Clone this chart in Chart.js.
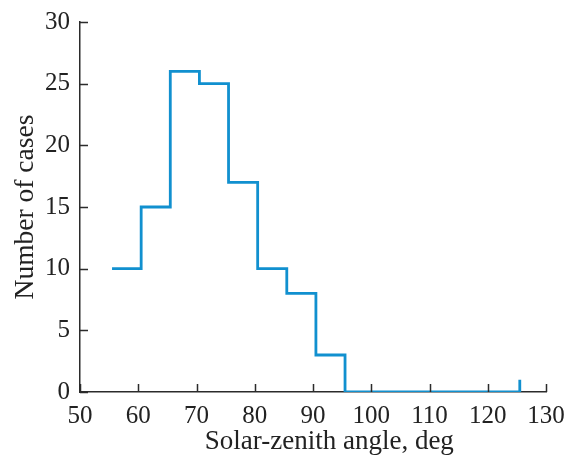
<!DOCTYPE html>
<html>
<head>
<meta charset="utf-8">
<script src="https://cdn.jsdelivr.net/npm/chart.js@4/dist/chart.umd.min.js"></script>
<style>
  html, body { margin: 0; padding: 0; background: #fff; }
  #wrap { width: 571px; height: 458px; }
</style>
</head>
<body>
<div id="wrap"><canvas id="c" width="571" height="458"></canvas></div>
<script>
// Left edges of the 5-degree bins (last entry closes the histogram)
const binEdges = [55.5, 60.5, 65.5, 70.5, 75.5, 80.5, 85.5, 90.5, 95.5, 125.5];
// Number of cases per bin, ending with the closing step
const caseCounts = [10, 15, 26, 25, 17, 10, 8, 3, 0, 1];
const xTicks = [50, 60, 70, 80, 90, 100, 110, 120, 130];
const yTicks = [0, 5, 10, 15, 20, 25, 30];
const xTitle = 'Solar-zenith angle, deg';
const yTitle = 'Number of cases';

const points = binEdges.map((x, i) => ({ x: x, y: caseCounts[i] }));
const FONT = '"Liberation Serif", "Times New Roman", serif';
const AXIS = '#2b2b2b';
const TEXT = '#222';

// Short inward tick marks plus the horizontal axis caption
const axisDecor = {
  id: 'axisDecor',
  afterDraw(chart) {
    const { ctx, chartArea, scales } = chart;
    const len = 8;
    ctx.save();
    ctx.strokeStyle = AXIS;
    ctx.lineWidth = 1.5;
    ctx.beginPath();
    xTicks.forEach(v => {
      const px = Math.round(scales.x.getPixelForValue(v)) + 0.5;
      ctx.moveTo(px, chartArea.bottom);
      ctx.lineTo(px, chartArea.bottom - len);
    });
    yTicks.forEach(v => {
      const py = Math.round(scales.y.getPixelForValue(v)) + 0.5;
      ctx.moveTo(chartArea.left, py);
      ctx.lineTo(chartArea.left + len, py);
    });
    ctx.stroke();

    ctx.fillStyle = TEXT;
    ctx.font = '27px ' + FONT;
    ctx.textAlign = 'center';
    ctx.textBaseline = 'middle';
    ctx.fillText(xTitle, scales.x.getPixelForValue(92.8), 442);
    ctx.restore();
  }
};

new Chart(document.getElementById('c'), {
  type: 'line',
  data: {
    datasets: [{
      data: points,
      stepped: 'before',
      borderColor: '#1190cf',
      borderWidth: 2.8,
      pointRadius: 0,
      fill: false,
      borderCapStyle: 'butt',
      borderJoinStyle: 'miter'
    }]
  },
  options: {
    responsive: false,
    animation: false,
    devicePixelRatio: 1,
    layout: { padding: { top: 22, right: 25, left: 0, bottom: 0 } },
    plugins: { legend: { display: false }, tooltip: { enabled: false } },
    scales: {
      x: {
        type: 'linear',
        min: 50, max: 130,
        afterBuildTicks(s) { s.ticks = xTicks.map(v => ({ value: v })); },
        afterFit(s) { s.height = 66; s.paddingLeft = 0; s.paddingRight = 0; },
        grid: { display: false, drawTicks: false },
        border: { display: true, color: AXIS, width: 1.5 },
        ticks: { color: TEXT, padding: 9, font: { family: FONT, size: 25 }, maxRotation: 0 },
        title: { display: false }
      },
      y: {
        type: 'linear',
        min: 0, max: 30,
        afterBuildTicks(s) { s.ticks = yTicks.map(v => ({ value: v })); },
        afterFit(s) { s.width = 80; s.paddingTop = 0; s.paddingBottom = 0; },
        grid: { display: false, drawTicks: false },
        border: { display: true, color: AXIS, width: 1.5 },
        ticks: { color: TEXT, padding: 10, font: { family: FONT, size: 25 } },
        title: { display: true, text: yTitle, color: TEXT, padding: { top: 9, bottom: 0 }, font: { family: FONT, size: 27.5 } }
      }
    }
  },
  plugins: [axisDecor]
});
</script>
</body>
</html>
